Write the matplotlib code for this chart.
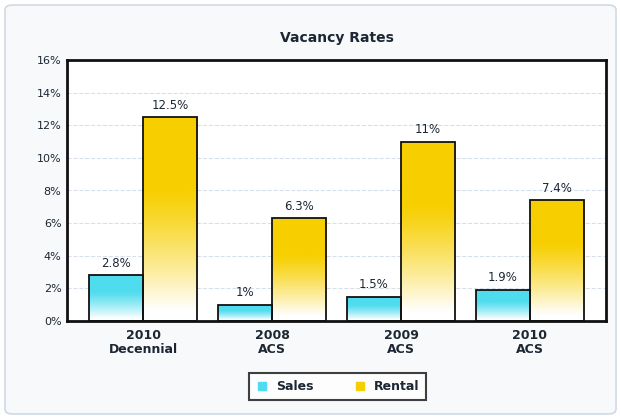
import numpy as np
import matplotlib.pyplot as plt
from matplotlib.patches import FancyBboxPatch, Rectangle
from matplotlib.lines import Line2D

# data
categories = ['2010\nDecennial', '2008\nACS', '2009\nACS', '2010\nACS']
sales = [2.8, 1.0, 1.5, 1.9]
rental = [12.5, 6.3, 11.0, 7.4]
sales_labels = ['2.8%', '1%', '1.5%', '1.9%']
rental_labels = ['12.5%', '6.3%', '11%', '7.4%']
yticks = [0, 2, 4, 6, 8, 10, 12, 14, 16]

sales_color = '#4fdcee'
rental_color = '#f7cf00'
text_color = '#1c2733'

fig = plt.figure(figsize=(6.21, 4.19), dpi=100)
fig.patch.set_facecolor('white')

# outer rounded panel
panel = FancyBboxPatch((0.008, 0.012), 0.984, 0.976,
                       boxstyle='round,pad=0,rounding_size=0.012',
                       transform=fig.transFigure, facecolor='#f8f9fb',
                       edgecolor='#cfdae6', linewidth=1.2, zorder=-1)
fig.patches.append(panel)

ax = fig.add_axes([67 / 621, 1 - 321 / 419, 539 / 621, 261 / 419])
ax.set_facecolor('white')

x = np.arange(len(categories))
w = 0.42


def gradient_bar(xc, h, color):
    rect = Rectangle((xc - w / 2, 0), w, h, facecolor='none',
                     edgecolor='#111111', linewidth=1.3, zorder=3)
    ax.add_patch(rect)
    rgb = np.array(plt.matplotlib.colors.to_rgb(color))
    t = np.linspace(0, 1, 256)[:, None]  # 0 = top, 1 = bottom
    mix = np.clip((t - 0.35) / 0.6, 0, 1) ** 1.2
    img = rgb[None, :] * (1 - mix) + np.ones(3)[None, :] * mix
    img = np.repeat(img[:, None, :], 2, axis=1)
    im = ax.imshow(img, extent=[xc - w / 2, xc + w / 2, 0, h],
                   aspect='auto', zorder=2, interpolation='bilinear')
    im.set_clip_path(rect)


for i in range(len(categories)):
    gradient_bar(x[i] - w / 2, sales[i], sales_color)
    gradient_bar(x[i] + w / 2, rental[i], rental_color)
    ax.annotate(sales_labels[i], (x[i] - w / 2, sales[i]), xytext=(0, 4),
                textcoords='offset points', ha='center', va='bottom',
                fontsize=8.5, color=text_color)
    ax.annotate(rental_labels[i], (x[i] + w / 2, rental[i]), xytext=(0, 4),
                textcoords='offset points', ha='center', va='bottom',
                fontsize=8.5, color=text_color)

ax.set_xlim(-0.59, 3.59)
ax.set_ylim(0, 16)
ax.set_yticks(yticks)
ax.set_yticklabels([f'{v}%' for v in yticks], fontsize=8, color=text_color)
ax.set_xticks(x)
ax.set_xticklabels(categories, fontsize=9, color=text_color, fontweight='bold',
                   linespacing=1.1)
ax.tick_params(length=0, pad=6)
ax.tick_params(axis='y', pad=4)
ax.yaxis.grid(True, color='#d6e0ea', linewidth=0.8, linestyle='--')
ax.set_axisbelow(True)
for s in ax.spines.values():
    s.set_linewidth(2)
    s.set_color('#111111')

fig.text(0.543, 0.909, 'Vacancy Rates', ha='center', va='center',
         fontsize=10, fontweight='bold', color=text_color)

handles = [Line2D([], [], marker='s', linestyle='none', markersize=6,
                  markerfacecolor=sales_color, markeredgecolor=sales_color),
           Line2D([], [], marker='s', linestyle='none', markersize=6,
                  markerfacecolor=rental_color, markeredgecolor=rental_color)]
leg = fig.legend(handles, ['Sales', 'Rental'], loc='center',
                 bbox_to_anchor=(337.5 / 621, 1 - 386.5 / 419), ncol=2,
                 fontsize=9, frameon=True, fancybox=False, edgecolor='#111111',
                 columnspacing=3.2, handletextpad=0.6, borderpad=0.55,
                 handlelength=1.0)
leg.get_frame().set_linewidth(1.5)
for t in leg.get_texts():
    t.set_color(text_color)
    t.set_fontweight('bold')

fig.savefig('out.png', dpi=100)
